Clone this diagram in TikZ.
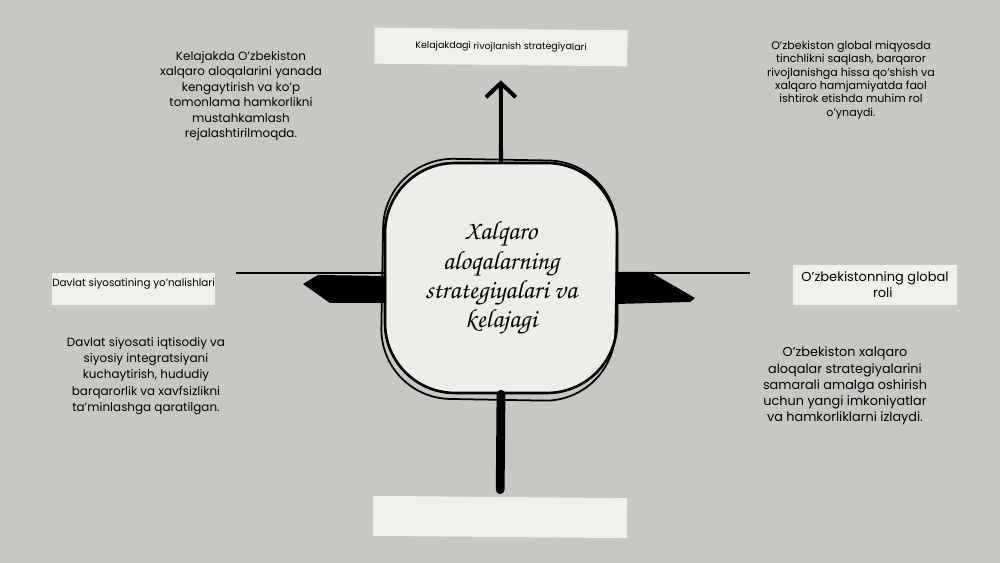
\documentclass[tikz,border=0pt]{standalone}
\usepackage{fontspec}
\setmainfont{Poppins}
\newfontfamily\handfont{texgyrechorus-mediumitalic.otf}
\usetikzlibrary{arrows.meta}
\definecolor{Board}{RGB}{201,199,196}
\definecolor{Tape}{RGB}{240,239,235}
\definecolor{Card}{RGB}{238,237,233}

\begin{document}
\begin{tikzpicture}[x=0.02cm, y=-0.02cm,
      tape/.style={fill=Tape, inner sep=0pt},
      blurb/.style={align=center, font=\fontsize{6.8}{9.2}\selectfont},
      stroke/.style={line width=#1, line cap=round}]
      \useasboundingbox[fill=Board] (0,0) rectangle (1000,563);

      % paper strips
      \node (top) at (501,47) [tape, rotate=-0.6, minimum width=5.06cm,
         minimum height=0.72cm, font=\fontsize{5.4}{6}\selectfont]
         {Kelajakdagi rivojlanish strategiyalari};
      \node (bottom) at (500,517) [tape, rotate=-0.5, minimum width=5.08cm,
         minimum height=0.8cm] {};
      \node (left) at (52,273) [tape, anchor=north west, inner ysep=2.5pt,
         text height=5pt, text depth=8pt, font=\fontsize{5.9}{7}\selectfont]
         {Davlat siyosatining yo'nalishlari};
      \node (right) at (875,285) [tape, minimum width=3.28cm, minimum height=0.8cm,
         align=center, font=\fontsize{7.4}{9}\selectfont]
         {O'zbekistonning global\\ \hspace*{1.2em}roli};

      % centre card
      \node (hub) at (501,278) [fill=Card, draw, line width=1.5pt,
         rounded corners=1.4cm, minimum width=4.64cm, minimum height=4.6cm] {};
      \draw [line width=1pt, rounded corners=1.4cm, rotate around={-1:(hub.center)}]
         ([shift={(-2pt,-2pt)}]hub.south west) rectangle ([shift={(0pt,0pt)}]hub.north east);
      \node (title) at (hub.center) [align=center,
         font=\handfont\fontsize{15}{16.6}\selectfont]
         {Xalqaro\\ aloqalarning\\ strategiyalari va\\ kelajagi};

      % connectors
      \draw [stroke=2.3pt, -{Straight Barb[length=8pt, width=17pt, line width=2.3pt]}]
         (hub.north) -- ([yshift=-0.3cm]top.south);
      \draw [stroke=5pt] (hub.south) -- ([yshift=0.14cm]bottom.north);
      \coordinate (lend) at (236,273);
      \coordinate (rend) at (750,273);
      \draw [line width=0.8pt] (hub.west |- lend) -- (lend);
      \draw [line width=0.8pt] (hub.east |- rend) -- (rend);
      \fill (303,284) -- (318,275) -- (386,276) -- (386,303) -- (330,303) -- cycle;
      \fill (616,272) -- (650,272) -- (695,298) -- (690,302) -- (616,304) -- cycle;

      % notes
      \node (noteTL) at (241,96) [blurb, font=\fontsize{6.8}{8.8}\selectfont]
         {Kelajakda O'zbekiston\\ xalqaro aloqalarini yanada\\ kengaytirish va ko'p\\
          tomonlama hamkorlikni\\ mustahkamlash\\ rejalashtirilmoqda.};
      \node (noteTR) at (851,80) [blurb, font=\fontsize{6.3}{7.6}\selectfont]
         {O'zbekiston global miqyosda\\ tinchlikni saqlash, barqaror\\
          rivojlanishga hissa qo'shish va\\ xalqaro hamjamiyatda faol\\
          ishtirok etishda muhim rol\\ o'ynaydi.};
      \node (noteBL) at (146,376) [blurb]
         {Davlat siyosati iqtisodiy va\\ siyosiy integratsiyani\\ kuchaytirish, hududiy\\
          barqarorlik va xavfsizlikni\\ ta'minlashga qaratilgan.};
      \node (noteBR) at (845,386) [blurb, font=\fontsize{7.3}{9.2}\selectfont]
         {O'zbekiston xalqaro\\ aloqalar strategiyalarini\\ samarali amalga oshirish\\
          uchun yangi imkoniyatlar\\ va hamkorliklarni izlaydi.};
   \end{tikzpicture}
\end{document}
